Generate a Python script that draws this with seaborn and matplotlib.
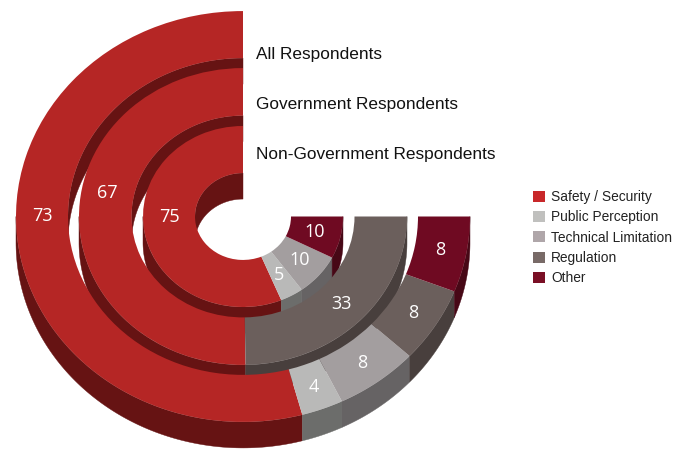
import numpy as np
import matplotlib
matplotlib.use("Agg")
import matplotlib.pyplot as plt
from matplotlib.patches import Patch
import seaborn as sns

categories = ["Safety / Security", "Public Perception", "Technical Limitation", "Regulation", "Other"]
ring_names = ["All Respondents", "Government Respondents", "Non-Government Respondents"]
all_respondents = [73, 4, 8, 8, 8]
government = [67, 0, 0, 33, 0]
non_government = [75, 5, 10, 0, 10]

top_colors = ["#B52625", "#B9B9B8", "#A39E9F", "#6B5F5C", "#6F0A22"]
wall_colors = ["#661313", "#6C6D6B", "#666364", "#483F3D", "#470816"]
legend_colors = ["#C8282A", "#C0C0BE", "#AFA6A9", "#786A67", "#7A0F25"]

W, H = 686, 449
CX, CY = 243, 216.5
SQUASH = 0.905
DEPTH = 26 / SQUASH
RINGS = [(227, 175), (164, 111.5), (100, 48)]
RED_LABEL_ANGLES = [180, 169, 180]

sns.set_theme(style="white")
plt.rcParams["font.family"] = ["Liberation Sans", "DejaVu Sans"]

fig = plt.figure(figsize=(W / 100, H / 100), dpi=100)
ax = fig.add_axes([0, 0, 1, 1])


def sector_angles(values):
    """Start and end angle of each sector; together they sweep three quarters of a turn."""
    sweep = 270 * np.asarray(values, dtype=float) / sum(values)
    ends = 90 + np.cumsum(sweep)
    return ends - sweep, ends


def draw_wall(radius, start, end, color, face_up):
    """Extruded side of a sector, limited to the part that faces the viewer."""
    low, high = (start, min(end, 180)) if face_up else (max(start, 180), min(end, 360))
    if high <= low:
        return
    t = np.radians(np.linspace(low, high, 120))
    x = radius * np.cos(t)
    y = radius * np.sin(t)
    ax.fill(np.r_[x, x[::-1]], np.r_[y, y[::-1] - DEPTH], color=color, lw=0.3, zorder=1)


series = [all_respondents, government, non_government]

# Side walls go first so every ring's top surface can cover them.
for values, (outer, inner) in zip(series, RINGS):
    starts, ends = sector_angles(values)
    for i, (a, b) in enumerate(zip(starts, ends)):
        draw_wall(inner, a, b, wall_colors[i], True)
        draw_wall(outer, a, b, wall_colors[i], False)

for values, (outer, inner), red_angle in zip(series, RINGS, RED_LABEL_ANGLES):
    blank = sum(values) / 3
    wedges, _ = ax.pie(
        list(values) + [blank],
        colors=top_colors + ["white"],
        radius=outer,
        startangle=90,
        counterclock=True,
        wedgeprops=dict(width=outer - inner, linewidth=0),
    )
    wedges[-1].set_visible(False)
    for w in wedges:
        w.set_zorder(2)

    starts, ends = sector_angles(values)
    mid_r = (outer + inner) / 2
    for i, v in enumerate(values):
        if v == 0:
            continue
        ang = red_angle if i == 0 else (starts[i] + ends[i]) / 2
        ax.text(
            mid_r * np.cos(np.radians(ang)),
            mid_r * np.sin(np.radians(ang)),
            str(v),
            color="white",
            fontsize=13,
            family="Open Sans",
            ha="center",
            va="center",
            zorder=3,
        )

# One data unit is one pixel across and SQUASH pixels down, which tilts the rings.
ax.set_aspect("auto")
ax.set_xlim(-CX, W - CX)
ax.set_ylim(-(H - CY) / SQUASH, CY / SQUASH)
ax.axis("off")

for name, y in zip(ring_names, [55, 104.5, 154.5]):
    fig.text(256 / W, 1 - y / H, name, fontsize=12.4, color="#111111", ha="left", va="center")

handles = [Patch(facecolor=c, edgecolor="none", label=n) for c, n in zip(legend_colors, categories)]
ax.legend(
    handles=handles,
    loc="upper left",
    bbox_to_anchor=(533 / W, 1 - 190 / H),
    frameon=False,
    fontsize=9.9,
    labelcolor="#222222",
    handlelength=0.87,
    handleheight=0.87,
    handletextpad=0.43,
    labelspacing=0.46,
    borderpad=0,
    borderaxespad=0,
)

fig.savefig("out.png", dpi=100, facecolor="white")
